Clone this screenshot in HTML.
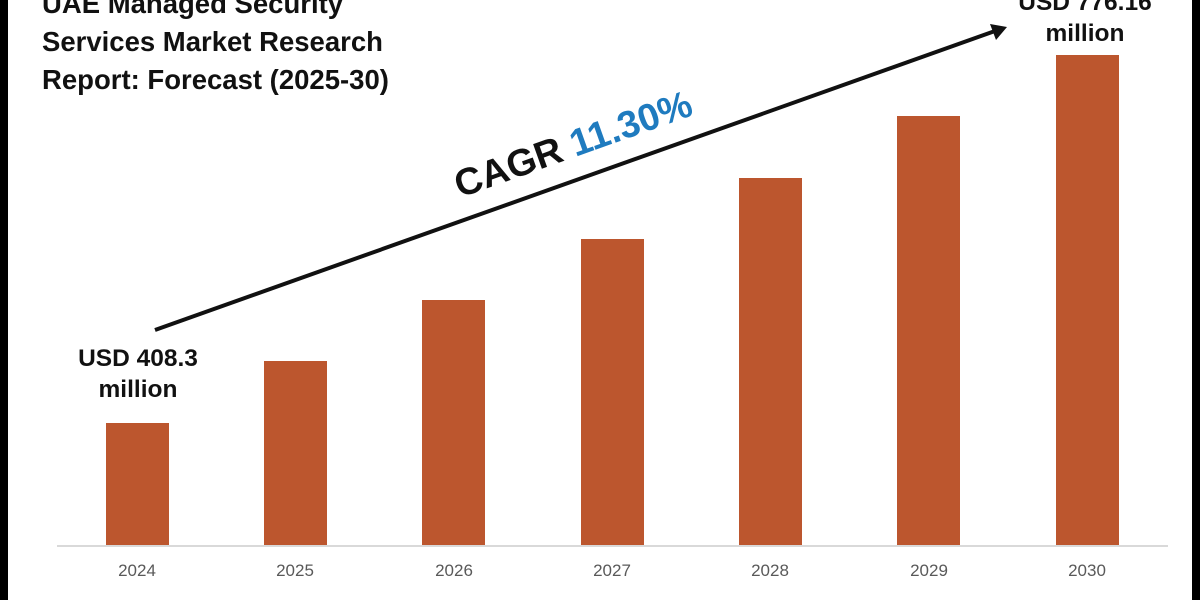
<!DOCTYPE html>
<html><head><meta charset="utf-8"><style>
html,body{margin:0;padding:0;background:#fff}
.c{position:relative;width:1200px;height:600px;overflow:hidden;background:#fff;font-family:"Liberation Sans",sans-serif}
.bar{position:absolute;background:#bc562e;width:63px}
.yr{position:absolute;top:561px;width:80px;text-align:center;font-size:17px;color:#595959}
.t{position:absolute;font-weight:bold;color:#111;font-size:27.5px;line-height:38px}
.lbl{position:absolute;font-weight:bold;color:#111;font-size:24.5px;line-height:31px;text-align:center}
</style></head><body><div class="c">
<div style="position:absolute;left:0;top:0;width:8px;height:600px;background:#000"></div>
<div style="position:absolute;right:0;top:0;width:8px;height:600px;background:#000"></div>
<div class="t" style="left:42px;top:-15px">UAE Managed Security<br>Services Market Research<br>Report: Forecast (2025-30)</div>
<div style="position:absolute;left:57px;top:545px;width:1111px;height:2px;background:#d9d9d9"></div>
<div class="bar" style="left:106px;top:423px;height:122px"></div>
<div class="bar" style="left:264px;top:361px;height:184px"></div>
<div class="bar" style="left:422px;top:300px;height:245px"></div>
<div class="bar" style="left:581px;top:239px;height:306px"></div>
<div class="bar" style="left:739px;top:178px;height:367px"></div>
<div class="bar" style="left:897px;top:116px;height:429px"></div>
<div class="bar" style="left:1056px;top:55px;height:490px"></div>
<div class="yr" style="left:97px">2024</div>
<div class="yr" style="left:255px">2025</div>
<div class="yr" style="left:414px">2026</div>
<div class="yr" style="left:572px">2027</div>
<div class="yr" style="left:730px">2028</div>
<div class="yr" style="left:889px">2029</div>
<div class="yr" style="left:1047px">2030</div>
<div class="lbl" style="left:48px;top:343px;width:180px">USD 408.3<br>million</div>
<div class="lbl" style="left:985px;top:-13px;width:200px">USD 776.16<br>million</div>
<svg style="position:absolute;left:0;top:0" width="1200" height="600">
<line x1="155" y1="330" x2="995" y2="31" stroke="#111" stroke-width="4"/>
<polygon points="1007,27 990,24 996,40" fill="#111"/>
<text x="0" y="0" transform="translate(460,198) rotate(-19.6)" font-family="Liberation Sans, sans-serif" font-weight="bold" font-size="38" fill="#111">CAGR <tspan fill="#1f7bbf">11.30%</tspan></text>
</svg>
</div></body></html>
